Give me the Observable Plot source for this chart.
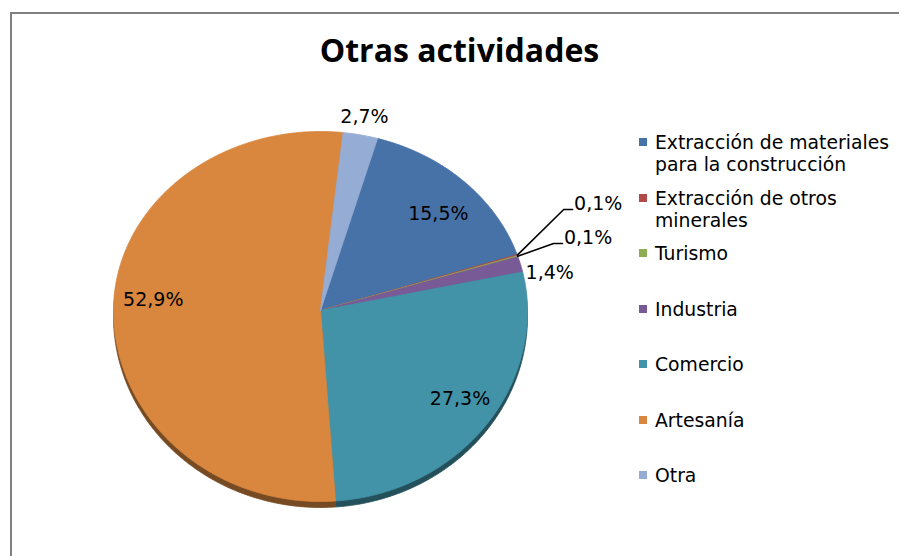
<!DOCTYPE html>
<html><head><meta charset="utf-8">
<script src="https://cdn.jsdelivr.net/npm/d3@7"></script>
<script src="https://cdn.jsdelivr.net/npm/@observablehq/plot@0.6"></script>
<style>
body{margin:0;overflow:hidden;background:#fff;}
#wrap{position:relative;width:899px;height:556px;overflow:hidden;background:#fff;}
#frame{position:absolute;left:10px;top:12px;width:1000px;height:1000px;border-left:2px solid #808080;border-top:2px solid #808080;}
#chart{position:absolute;left:0;top:0;width:899px;height:556px;}
#chart svg{display:block;width:899px;height:556px;max-width:none;}
#title{position:absolute;left:0;top:33.6px;width:919px;text-align:center;font-family:"Open Sans";font-weight:700;font-size:32px;line-height:32px;color:#000;}
#legend{position:absolute;left:639px;top:132px;font-family:"DejaVu Sans";font-size:18.8px;color:#000;}
.item{display:flex;align-items:flex-start;height:55.5px;}
.sw{width:8px;height:8px;margin-top:6px;margin-right:8px;flex:none;}
.lab{line-height:22px;width:240px;}
#err{position:absolute;left:20px;top:520px;color:red;font:12px sans-serif;}
</style></head><body>
<div id="wrap"><div id="frame"></div><div id="chart"></div><div id="title"></div><div id="legend"></div><div id="err"></div></div>
<script>
const title = "Otras actividades";
const categories = ["Extracción de materiales para la construcción","Extracción de otros minerales","Turismo","Industria","Comercio","Artesanía","Otra"];
const values = [15.5, 0.1, 0.1, 1.4, 27.3, 52.9, 2.7];
const colors = ["#4772a8","#b24a48","#8fad52","#785a97","#4293a8","#d9873f","#95add5"];

try {
const deg = Math.PI / 180;
const firstSliceAngle = 16 * deg;
const arcs = d3.pie().sort(null).startAngle(firstSliceAngle).endAngle(firstSliceAngle + 2 * Math.PI)(values);
const sideColors = colors.map(c => d3.color(c).darker(1.7).formatHex());
const pctText = values.map(v => v.toFixed(1).replace(".", ",") + "%");

// slice polygons (unit circle, drawn through the x/y scales)
const slices = arcs.flatMap((a, i) => {
  const n = Math.max(2, Math.ceil((a.endAngle - a.startAngle) / (0.5 * deg)));
  const pts = [{i, x: 0, y: 0}];
  for (let k = 0; k <= n; k++) {
    const t = a.startAngle + (a.endAngle - a.startAngle) * k / n;
    pts.push({i, x: Math.sin(t), y: Math.cos(t)});
  }
  pts.push({i, x: 0, y: 0});
  return pts;
});
const mid = arcs.map(a => (a.startAngle + a.endAngle) / 2);

// label placement (radius factor, angular nudge in degrees)
const labelPlacement = [
  {i: 0, r: 0.785, da: 2.6},
  {i: 3, r: 1.127, da: 4.2},
  {i: 4, r: 0.817, da: -2.3},
  {i: 5, r: 0.81, da: 3},
  {i: 6, r: 1.1, da: 0}
];
const labelData = labelPlacement.map(p => {
  const a = mid[p.i] + p.da * deg;
  return {x: p.r * Math.sin(a), y: p.r * Math.cos(a), t: pctText[p.i]};
});
// leader-line labels (elbow positions in unit coordinates)
const leaderPlacement = [{i: 1, ex: 1.175, ey: 0.564}, {i: 2, ex: 1.126, ey: 0.374}];
const leaderLines = leaderPlacement.flatMap(p => [
  {i: p.i, x: Math.sin(mid[p.i]), y: Math.cos(mid[p.i])},
  {i: p.i, x: p.ex, y: p.ey},
  {i: p.i, x: p.ex + 0.043, y: p.ey}
]);
const leaderText = leaderPlacement.map(p => ({x: p.ex + 0.05, y: p.ey + 0.032, t: pctText[p.i]}));

const chart = Plot.plot({
  width: 899, height: 556,
  marginTop: 0, marginRight: 0, marginBottom: 0, marginLeft: 0,
  x: {type: "linear", domain: [-1, 1], range: [113, 527], axis: null},
  y: {type: "linear", domain: [-1, 0, 1], range: [501, 310, 131], axis: null},
  style: {background: "transparent", overflow: "visible"},
  marks: [
    Plot.line(slices, {x: "x", y: "y", z: "i", fill: d => sideColors[d.i], stroke: d => sideColors[d.i], strokeWidth: 0.8, dy: 6}),
    Plot.line(slices, {x: "x", y: "y", z: "i", fill: d => colors[d.i], stroke: d => colors[d.i], strokeWidth: 0.8}),
    Plot.line(leaderLines, {x: "x", y: "y", z: "i", stroke: "#000", strokeWidth: 1.6}),
    Plot.text(labelData, {x: "x", y: "y", text: "t", fontFamily: "DejaVu Sans", fontSize: 19, fill: "#000", textAnchor: "middle"}),
    Plot.text(leaderText, {x: "x", y: "y", text: "t", fontFamily: "DejaVu Sans", fontSize: 19, fill: "#000", textAnchor: "start"})
  ]
});
document.getElementById("chart").appendChild(chart);
} catch (e) { document.getElementById("err").textContent = String(e); }
document.getElementById("title").textContent = title;

const legend = document.getElementById("legend");
categories.forEach((c, i) => {
  const item = document.createElement("div");
  item.className = "item";
  const sw = document.createElement("div");
  sw.className = "sw";
  sw.style.background = colors[i];
  const lab = document.createElement("div");
  lab.className = "lab";
  lab.textContent = c;
  item.appendChild(sw);
  item.appendChild(lab);
  legend.appendChild(item);
});
</script>
</body></html>
